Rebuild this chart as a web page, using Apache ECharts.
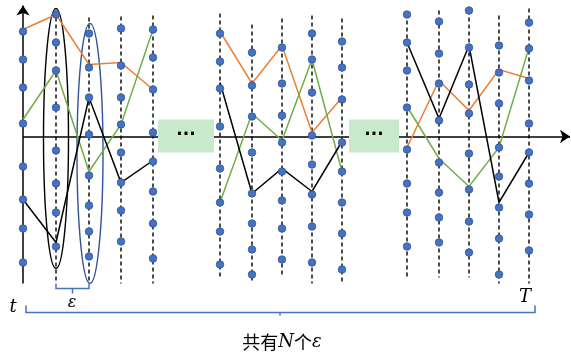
<!DOCTYPE html>
<html><head><meta charset="utf-8">
<script src="https://cdn.jsdelivr.net/npm/echarts@6/dist/echarts.min.js"></script>
<style>html,body{margin:0;padding:0;background:#fff}#c{width:571px;height:356px}</style>
</head><body><div id="c"></div>
<script>
// time position of each sampled column (15 columns in three groups)
const colX = [23, 56, 89, 121, 153, 220, 252, 282, 312, 342, 407, 439, 469, 499, 529];
// extent of each dashed column: top value, bottom value
const colTop = [131, 126, 119, 120, 121, 123, 112, 118, 121, 118, 123, 126, 126, 121, 128];
const colBottom = [-147, -147, -147, -147, -147, -141, -147, -141, -147, -147, -141, -141, -141, -147, -147];
// sampled levels (dots) in each column
const dotLevels = [
  [105, 77, 49, 13, -30, -63, -92, -126],
  [122, 94, 66, 29, -14, -47, -76, -110],
  [103, 69, 39, 2, -39, -69, -95, -120],
  [108, 71, 39, 12, -16, -46, -74, -105],
  [107, 79, 47, 4, -25, -55, -87, -122],
  [103, 75, 48, 10, -32, -66, -95, -128],
  [84, 51, 20, -16, -57, -87, -113, -138],
  [89, 53, 21, -6, -35, -64, -92, -123],
  [103, 77, 44, 1, -28, -58, -90, -126],
  [95, 69, 37, -6, -35, -66, -97, -133],
  [122, 94, 66, 29, -13, -47, -76, -110],
  [115, 83, 53, 16, -26, -56, -81, -106],
  [126, 89, 52, 23, -17, -53, -85, -116],
  [91, 64, 33, -11, -40, -71, -102, -138],
  [114, 88, 56, 13, -16, -47, -78, -114]
];
// path values per column group (5 columns each)
const orangePath = [[107, 122, 72, 74, 47], [105, 53, 91, 4, 39], [-11, 56, 26, 67, 58]];
const greenPath  = [[17, 66, -35, 12, 107], [-66, 23, -4, 77, -35], [30, -22, -50, -11, 89]];
const blackPath  = [[-63, -106, 39, -46, -24], [54, -57, -32, -55, -5], [94, 18, 91, -66, -16]];
// epsilon windows (ellipses) : column index, center level, half height
const windowCols = [1, 2];
const windowCenter = [-2, -17];
const windowHalf = [130, 130];
// omitted spans between groups
const gapStart = [158, 349];
const gapEnd = [214, 399];

const groupStart = [0, 5, 10];

function pathCoords(path) {
  return path.map((vals, g) => ({coords: vals.map((v, i) => [colX[groupStart[g] + i], v])}));
}
const dots = [];
colX.forEach((x, i) => dotLevels[i].forEach(v => dots.push([x, v])));
const columns = colX.map((x, i) => i === 0 ? null : {coords: [[x, colTop[i]], [x, colBottom[i]]]}).filter(Boolean);

const chart = echarts.init(document.getElementById('c'), null, {renderer: 'canvas'});
const serif = '"DejaVu Serif", "Liberation Serif", serif';
const cjk = '"Noto Sans CJK SC", sans-serif';

chart.setOption({
  animation: false,
  grid: {left: 0, right: 0, top: 0, bottom: 0},
  xAxis: {type: 'value', min: 0, max: 571, show: false},
  yAxis: {type: 'value', min: -219.5, max: 136.5, show: false},
  series: [
    { // dashed columns
      type: 'lines', coordinateSystem: 'cartesian2d', polyline: true, z: 1, silent: true,
      lineStyle: {color: '#000', width: 1.4, type: [4, 3], opacity: 1},
      data: columns
    },
    { // axes
      type: 'lines', coordinateSystem: 'cartesian2d', z: 2, silent: true,
      symbol: ['none', 'arrow'], symbolSize: [9, 10],
      lineStyle: {color: '#000', width: 1.5, opacity: 1},
      data: [
        {coords: [[colX[0], colBottom[0]], [colX[0], 131]]},
        {coords: [[colX[0], 0], [570, 0]]}
      ]
    },
    { // epsilon windows
      type: 'custom', z: 2, silent: true,
      data: windowCols.map((c, i) => [colX[c], windowCenter[i], windowHalf[i], i]),
      renderItem: function (params, api) {
        const p = api.coord([api.value(0), api.value(1)]);
        const s = api.size([13, api.value(2)]);
        const i = api.value(3);
        return {
          type: 'ellipse',
          shape: {cx: p[0] + (i === 1 ? 1 : 0), cy: p[1], rx: i === 1 ? 13 : 12.5, ry: s[1]},
          style: {fill: 'none', stroke: i === 0 ? '#000' : '#2f5597', lineWidth: 1.4}
        };
      }
    },
    { type: 'lines', coordinateSystem: 'cartesian2d', polyline: true, z: 3, silent: true,
      lineStyle: {color: '#ed7d31', width: 1.5, opacity: 1}, data: pathCoords(orangePath) },
    { type: 'lines', coordinateSystem: 'cartesian2d', polyline: true, z: 3, silent: true,
      lineStyle: {color: '#70ad47', width: 1.5, opacity: 1}, data: pathCoords(greenPath) },
    { type: 'lines', coordinateSystem: 'cartesian2d', polyline: true, z: 3, silent: true,
      lineStyle: {color: '#000', width: 1.5, opacity: 1}, data: pathCoords(blackPath) },
    { // omitted spans
      type: 'custom', z: 4, silent: true,
      data: gapStart.map((s, i) => [s, gapEnd[i]]),
      renderItem: function (params, api) {
        const a = api.coord([api.value(0), 17]);
        const b = api.coord([api.value(1), -16]);
        return {
          type: 'group',
          children: [
            {type: 'rect', shape: {x: a[0], y: a[1], width: b[0] - a[0], height: b[1] - a[1]},
             style: {fill: '#c8e9cc'}},
            {type: 'text', x: (a[0] + b[0]) / 2, y: (a[1] + b[1]) / 2,
             style: {text: '···', fill: '#000', fontSize: 17, fontWeight: 'bold',
                     fontFamily: 'DejaVu Sans', align: 'center', verticalAlign: 'middle'}}
          ]
        };
      }
    },
    { // dots
      type: 'scatter', z: 5, silent: true, symbolSize: 7.5,
      itemStyle: {color: '#4472c4', borderColor: '#2f528f', borderWidth: 0.8, opacity: 1},
      data: dots
    },
    { // braces
      type: 'lines', coordinateSystem: 'cartesian2d', polyline: true, z: 3, silent: true,
      lineStyle: {color: '#4472c4', width: 1.5, opacity: 1},
      data: [
        {coords: [[colX[1], -147], [colX[1], -152], [colX[2], -152], [colX[2], -147]]},
        {coords: [[72.5, -152], [72.5, -157]]},
        {coords: [[26, -169], [26, -176], [535, -176], [535, -169]]},
        {coords: [[280, -176], [280, -179]]}
      ]
    },
    { // labels
      type: 'custom', z: 6, silent: true,
      data: [[0]],
      renderItem: function (params, api) {
        const t = api.coord([13, -171]);
        const T = api.coord([525, -161]);
        const e = api.coord([72, -166]);
        const m = api.coord([282, -206]);
        return {type: 'group', children: [
          {type: 'text', x: t[0], y: t[1], style: {text: 't', fontFamily: serif, fontStyle: 'italic',
            fontSize: 18, fill: '#000', align: 'center', verticalAlign: 'middle'}},
          {type: 'text', x: T[0], y: T[1], style: {text: 'T', fontFamily: serif, fontStyle: 'italic',
            fontSize: 18, fill: '#000', align: 'center', verticalAlign: 'middle'}},
          {type: 'text', x: e[0], y: e[1], style: {text: 'ε', fontFamily: serif, fontStyle: 'italic',
            fontSize: 16, fill: '#000', align: 'center', verticalAlign: 'middle'}},
          {type: 'text', x: m[0], y: m[1], style: {
            text: '{a|共有}{b|N}{a|个}{b|ε}', align: 'center', verticalAlign: 'middle',
            rich: {
              a: {fontFamily: cjk, fontSize: 18, fill: '#000'},
              b: {fontFamily: serif, fontStyle: 'italic', fontSize: 18, fill: '#000'}
            }}}
        ]};
      }
    }
  ]
});
</script>
</body></html>
